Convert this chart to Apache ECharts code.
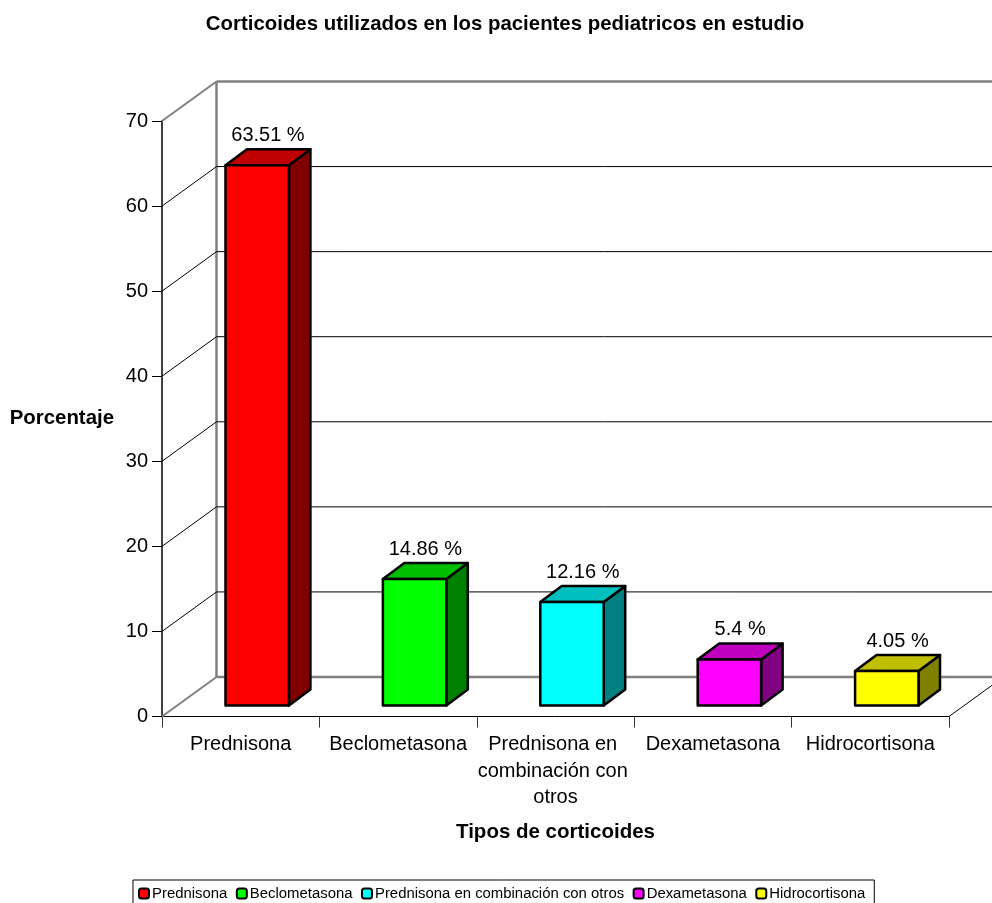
<!DOCTYPE html>
<html>
<head>
<meta charset="utf-8">
<style>html,body{margin:0;padding:0;background:#fff;overflow:hidden}#chart{width:992px;height:903px}</style>
<script src="https://cdn.jsdelivr.net/npm/echarts@6/dist/echarts.min.js"></script>
</head>
<body>
<div id="chart"></div>
<script>
// Corticosteroid use among the paediatric patients, drawn as pseudo-3D columns.
const categories = ['Prednisona', 'Beclometasona', 'Prednisona en combinación con otros', 'Dexametasona', 'Hidrocortisona'];
const percentages = [63.51, 14.86, 12.16, 5.4, 4.05];
const yTicks = [0, 10, 20, 30, 40, 50, 60, 70];
const frontColors = ['#ff0000', '#00ff00', '#00ffff', '#ff00ff', '#ffff00'];
const topColors = ['#bf0000', '#00bf00', '#00bfbf', '#bf00bf', '#bfbf00'];
const sideColors = ['#800000', '#008000', '#008080', '#800080', '#808000'];

const FONT = '"Liberation Sans", Arial, sans-serif';
const WALL = { dx: 54.5, dy: -39.5 };     // depth of the chart box
const BAR = { dx: 21.5, dy: -16, shiftX: 16.5, shiftY: -11, widthRatio: 0.403 };

function line(x1, y1, x2, y2, stroke, lineWidth) {
  return { type: 'line', shape: { x1, y1, x2, y2 }, style: { stroke, lineWidth, fill: null } };
}

// Side walls, floor and gridlines of the box
function renderWall(params, api) {
  const rect = params.coordSys;
  const v = api.value(1);
  const y = api.coord([0, v])[1];
  const backX = rect.x + WALL.dx;
  const backY = y + WALL.dy;
  const edge = v === 0 || v === yTicks[yTicks.length - 1];
  const stroke = edge ? '#808080' : '#000';
  const children = [
    line(rect.x, y, backX, backY, stroke, edge ? 2 : 1),
    line(backX, backY, rect.x + rect.width + WALL.dx, backY, stroke, edge ? 2.5 : 1)
  ];
  if (v === 0) {
    const backTop = api.coord([0, yTicks[yTicks.length - 1]])[1] + WALL.dy;
    children.push(line(backX, backY, backX, backTop, '#808080', 2.5));
    children.push(line(rect.x + rect.width, y, rect.x + rect.width + WALL.dx, backY, '#000', 1));
  }
  return { type: 'group', children };
}

// One column: front face, top and right side, plus its value label
function renderBar(i) {
  return function (params, api) {
    const value = api.value(1);
    const base = api.coord([i, 0]);
    const head = api.coord([i, value]);
    const w = api.size([1, 0])[0] * BAR.widthRatio;
    const x0 = base[0] + BAR.shiftX - w / 2;
    const x1 = x0 + w;
    const yb = base[1] + BAR.shiftY;
    const yt = head[1] + BAR.shiftY;
    const border = { stroke: '#000', lineWidth: 2.5, lineJoin: 'round' };
    return {
      type: 'group',
      children: [
        { type: 'polygon', shape: { points: [[x1, yt], [x1 + BAR.dx, yt + BAR.dy], [x1 + BAR.dx, yb + BAR.dy], [x1, yb]] },
          style: Object.assign({ fill: sideColors[i] }, border) },
        { type: 'polygon', shape: { points: [[x0, yt], [x0 + BAR.dx, yt + BAR.dy], [x1 + BAR.dx, yt + BAR.dy], [x1, yt]] },
          style: Object.assign({ fill: topColors[i] }, border) },
        { type: 'rect', shape: { x: x0, y: yt, width: w, height: yb - yt },
          style: Object.assign({ fill: frontColors[i] }, border) },
        { type: 'text', x: (x0 + x1 + BAR.dx) / 2, y: yt + BAR.dy - 14,
          style: { text: value + ' %', fill: '#000', font: '20px ' + FONT, textAlign: 'center', textVerticalAlign: 'middle' } }
      ]
    };
  };
}

const barSeries = categories.map((name, i) => ({
  type: 'custom',
  name,
  z: 4,
  silent: true,
  itemStyle: { color: frontColors[i] },
  encode: { x: 0, y: 1 },
  data: [[i, percentages[i]]],
  renderItem: renderBar(i)
}));

const chart = echarts.init(document.getElementById('chart'), null, { renderer: 'canvas' });
chart.setOption({
  animation: false,
  backgroundColor: '#fff',
  title: {
    text: 'Corticoides utilizados en los pacientes pediatricos en estudio',
    left: 500, top: 9, textAlign: 'center',
    textStyle: { fontFamily: FONT, fontSize: 20.4, fontWeight: 'bold', color: '#000' }
  },
  grid: { left: 162, top: 121, width: 787, height: 595.5 },
  legend: {
    left: 133, top: 880,
    padding: [6, 9, 5, 5],
    itemGap: 8.5, itemWidth: 10, itemHeight: 10,
    borderColor: '#000', borderWidth: 1,
    backgroundColor: '#fff',
    textStyle: { fontFamily: FONT, fontSize: 14.9, color: '#000', padding: [0, 0, 0, -2] },
    data: categories.map((name, i) => ({
      name, icon: 'roundRect',
      itemStyle: { color: frontColors[i], borderColor: '#000', borderWidth: 2 }
    }))
  },
  xAxis: {
    type: 'category',
    data: categories,
    name: 'Tipos de corticoides',
    nameLocation: 'middle', nameGap: 105,
    nameTextStyle: { fontFamily: FONT, fontSize: 20.5, fontWeight: 'bold', color: '#000' },
    axisLine: { lineStyle: { color: '#000', width: 1 } },
    axisTick: { show: true, alignWithLabel: false, length: 11, lineStyle: { color: '#333', width: 1 } },
    axisLabel: {
      interval: 0, margin: 15, width: 170, overflow: 'break', lineHeight: 26.5,
      fontFamily: FONT, fontSize: 20, color: '#000'
    }
  },
  yAxis: {
    type: 'value',
    min: 0, max: 70, interval: 10,
    name: 'Porcentaje',
    nameLocation: 'middle', nameRotate: 0, nameGap: 48,
    nameTextStyle: { fontFamily: FONT, fontSize: 20.4, fontWeight: 'bold', color: '#000', padding: [6, 0, 0, 0] },
    axisLine: { show: true, lineStyle: { color: '#404040', width: 2 } },
    axisTick: { show: true, length: 10, lineStyle: { color: '#000', width: 1 } },
    axisLabel: { margin: 14, fontFamily: FONT, fontSize: 20, color: '#000' },
    splitLine: { show: false }
  },
  series: [{
    type: 'custom',
    name: 'Pared',
    z: 1,
    silent: true,
    encode: { y: 1 },
    data: yTicks.map(v => [0, v]),
    renderItem: renderWall
  }].concat(barSeries)
});
</script>
</body>
</html>
